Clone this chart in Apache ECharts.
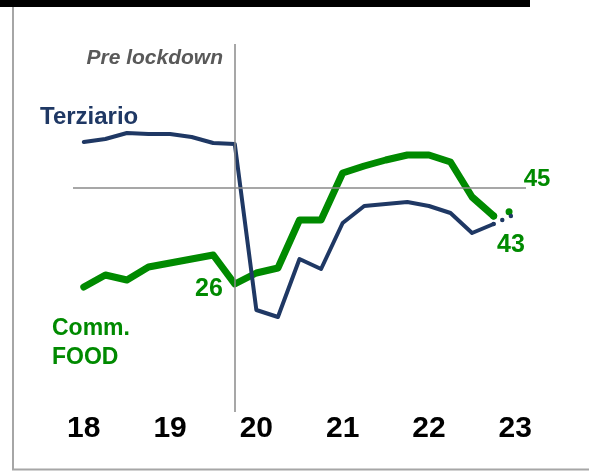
<!DOCTYPE html>
<html>
<head>
<meta charset="utf-8">
<script src="https://cdn.jsdelivr.net/npm/echarts@6/dist/echarts.min.js"></script>
<style>
  html, body { margin: 0; padding: 0; background: #fff; }
  #main { width: 589px; height: 472px; }
</style>
</head>
<body>
<div id="main"></div>
<script>
// quarters 2018 Q1 .. 2023 Q1
var quarters = [
  '18 Q1', '18 Q2', '18 Q3', '18 Q4',
  '19 Q1', '19 Q2', '19 Q3', '19 Q4',
  '20 Q1', '20 Q2', '20 Q3', '20 Q4',
  '21 Q1', '21 Q2', '21 Q3', '21 Q4',
  '22 Q1', '22 Q2', '22 Q3', '22 Q4',
  '23 Q1'
];
var terziario = [61.5, 62.25, 63.75, 63.5, 63.5, 62.75, 61.25, 61,
  19.5, 17.75, 32.25, 29.75, 41.25, 45.5, 46, 46.5, 45.5, 43.75, 38.75, 41];
var terziarioForecast = 43.5;
var food = [25.25, 28.25, 27, 30.25, 31.25, 32.25, 33.25, 26,
  28.75, 30, 42, 42, 53.75, 55.5, 57, 58.25, 58.25, 56.5, 47.75, 43];
var foodForecast = 44.5;
var refLevel = 50;
var lockdownQuarter = '19 Q4';
var valueLabels = ['26', '43', '45'];

var navy = '#1f3864';
var green = '#008a00';
var font = 'Liberation Sans, Arial, sans-serif';

function forecast(series, last) {
  var out = [];
  for (var i = 0; i < series.length - 1; i++) out.push(null);
  out.push(series[series.length - 1]);
  out.push(last);
  return out;
}

function label(text, x, y, size, color, align, style) {
  return {
    type: 'text', x: x, y: y,
    style: {
      text: text, align: align || 'left', verticalAlign: 'middle',
      font: (style || 'bold') + ' ' + size + 'px ' + font, fill: color
    }
  };
}

var myChart = echarts.init(document.getElementById('main'));

myChart.setOption({
  animation: false,
  grid: { left: 73, top: 44, width: 453, height: 368 },
  xAxis: {
    type: 'category',
    data: quarters,
    boundaryGap: true,
    axisLine: { show: false },
    axisTick: { show: false },
    splitLine: { show: false },
    axisLabel: {
      interval: 3,
      margin: 2,
      color: '#000',
      fontSize: 30,
      fontWeight: 'bold',
      fontFamily: font,
      formatter: function (v) { return v.slice(0, 2); }
    }
  },
  yAxis: {
    type: 'value',
    min: -6,
    max: 86,
    show: false,
    splitLine: { show: false }
  },
  series: [
    {
      name: 'Comm. FOOD',
      type: 'line',
      data: food,
      symbol: 'none',
      z: 3,
      lineStyle: { color: green, width: 7, cap: 'round', join: 'round' },
      markLine: {
        silent: true,
        symbol: 'none',
        label: { show: false },
        lineStyle: { color: '#8a8a8a', width: 1.5, type: 'solid' },
        data: [
          { xAxis: lockdownQuarter },
          { yAxis: refLevel }
        ]
      }
    },
    {
      name: 'Comm. FOOD forecast',
      type: 'line',
      data: forecast(food, foodForecast),
      symbol: 'none',
      z: 3,
      lineStyle: { color: green, width: 7, cap: 'round', type: [0, 16] }
    },
    {
      name: 'Terziario',
      type: 'line',
      data: terziario,
      symbol: 'none',
      z: 4,
      lineStyle: { color: navy, width: 4, cap: 'round', join: 'round' }
    },
    {
      name: 'Terziario forecast',
      type: 'line',
      data: forecast(terziario, terziarioForecast),
      symbol: 'none',
      z: 4,
      lineStyle: { color: navy, width: 4.5, cap: 'round', type: [0, 9.5] }
    }
  ],
  graphic: [
    { type: 'rect', shape: { x: 0, y: 0, width: 530, height: 7 }, style: { fill: '#000' } },
    { type: 'line', shape: { x1: 13, y1: 7, x2: 13, y2: 470 }, style: { stroke: '#a6a6a6', lineWidth: 2 } },
    { type: 'line', shape: { x1: 12, y1: 469.5, x2: 589, y2: 469.5 }, style: { stroke: '#a6a6a6', lineWidth: 2 } },
    label('Pre lockdown', 223, 58, 21, '#595959', 'right', 'italic bold'),
    label('Terziario', 40, 117, 24, navy),
    label('Comm.', 52, 329, 23, green),
    label('FOOD', 52, 357.5, 23, green),
    label(valueLabels[0], 209, 289, 25, green, 'center'),
    label(valueLabels[1], 511, 245.5, 25, green, 'center'),
    label(valueLabels[2], 537, 179, 24, green, 'center')
  ]
});
</script>
</body>
</html>
